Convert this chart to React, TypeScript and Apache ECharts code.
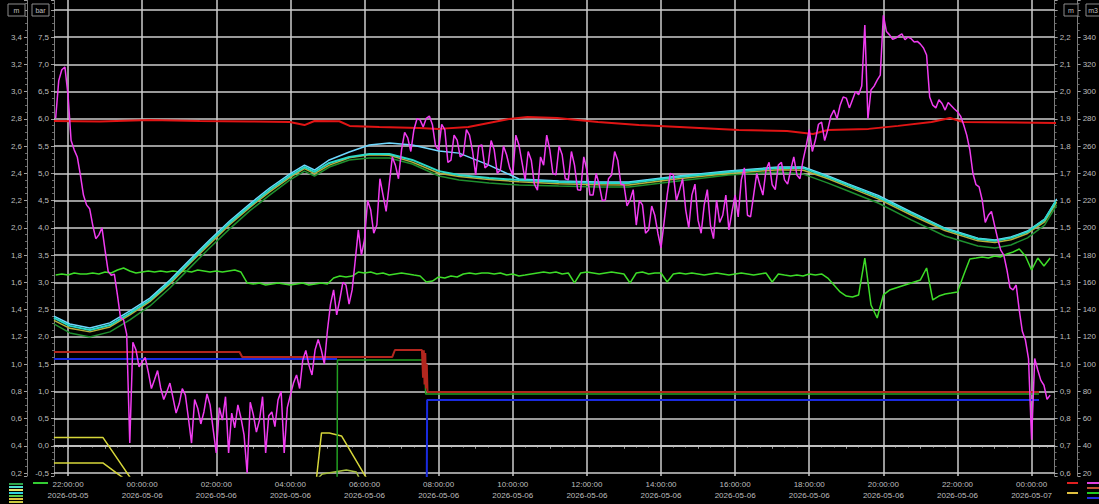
import React, { useEffect, useRef } from "react";
import * as echarts from "echarts";

// ---- time frame (hours relative to 2026-05-05 22:00) ----
const BASE = new Date(2026, 4, 5, 22, 0, 0).getTime();
const HOUR = 3600000;
const X_START_H = -0.378;
const X_END_H = 26.622;
const SAMPLE_START_H = -1 / 3; // 21:40
const PRESSURE_STEP_H = 1 / 12; // 5-minute samples
const LEVEL_STEP_H = 1 / 6; // 10-minute samples

// ---- grid ticks ----
const gridHours = [0, 2, 4, 6, 8, 10, 12, 14, 16, 18, 20, 22, 24, 26];
const gridMeters = [0.2, 0.4, 0.6, 0.8, 1.0, 1.2, 1.4, 1.6, 1.8, 2.0, 2.2, 2.4, 2.6, 2.8, 3.0, 3.2, 3.4, 3.6];

// ---- magenta pressure (bar), 5-minute samples ----
const pressureBar = [
  6.01, 6.7, 6.9, 6.95, 6.44, 5.6, 5.43, 5.3, 4.97, 4.6,
  4.42, 4.35, 4.05, 3.8, 3.87, 4.0, 3.59, 3.2, 3.13, 3.15,
  2.77, 2.35, 2.31, 2.05, 0.05, 1.9, 1.76, 1.45, 1.54, 1.62,
  1.35, 1.05, 1.21, 1.38, 1.06, 0.85, 0.99, 1.15, 0.88, 0.6,
  0.77, 1.05, 0.93, 0.5, 0.05, 0.85, 0.69, 0.4, 0.62, 0.95,
  0.75, 0.3, -0.13, 0.7, 0.47, 0.9, -0.13, 0.6, 0.33, 0.75,
  0.51, 0.2, -0.5, 0.8, 0.57, 0.25, 0.47, 0.9, -0.13, 0.55,
  0.62, 0.35, 0.84, 1.0, -0.13, 0.7, 0.93, 1.15, 1.3, 1.05,
  1.57, 1.75, 1.48, 1.3, 1.76, 1.95, 1.76, 1.5, 2.12, 2.6,
  2.86, 2.4, 2.68, 3.0, 2.95, 2.6, 2.86, 3.4, 3.96, 3.5,
  3.78, 4.5, 4.33, 3.9, 4.05, 4.9, 4.6, 4.3, 4.79, 5.3,
  5.15, 4.9, 5.43, 5.75, 5.65, 5.4, 5.8, 6.0, 5.98, 5.85,
  6.01, 6.05, 5.89, 5.5, 5.43, 5.9, 5.8, 5.2, 5.24, 5.7,
  5.61, 5.3, 5.34, 5.8, 5.7, 5.4, 4.97, 5.5, 5.52, 5.1,
  5.15, 5.6, 5.43, 5.0, 5.06, 5.5, 5.34, 5.1, 4.97, 5.7,
  5.52, 5.2, 4.88, 5.4, 5.24, 4.8, 4.69, 5.3, 5.15, 5.7,
  5.43, 5.0, 4.97, 5.5, 5.34, 4.9, 4.88, 5.4, 5.15, 4.7,
  4.69, 5.3, 5.06, 4.6, 4.6, 5.0, 4.79, 4.5, 4.51, 4.9,
  4.97, 5.4, 5.24, 4.8, 4.79, 4.4, 4.51, 4.7, 4.05, 4.5,
  4.42, 3.9, 3.96, 4.4, 4.23, 3.9, 3.63, 4.1, 4.6, 5.0,
  4.97, 4.5, 4.69, 4.9, 4.33, 4.0, 4.6, 4.8, 4.14, 3.9,
  4.42, 4.7, 4.05, 3.8, 4.51, 4.1, 4.23, 4.6, 3.96, 4.3,
  4.6, 4.2, 4.88, 5.1, 4.23, 4.2, 4.6, 5.0, 4.79, 4.6,
  5.06, 5.2, 4.79, 4.7, 5.15, 5.2, 4.88, 4.8, 5.06, 5.3,
  4.97, 4.9, 5.24, 5.5, 5.8, 5.4, 5.61, 5.9, 5.94, 5.6,
  5.8, 6.05, 6.16, 6.0, 6.25, 6.4, 6.38, 6.2, 6.35, 6.5,
  6.44, 6.6, 7.72, 6.0, 6.53, 6.6, 6.71, 6.8, 7.9, 7.6,
  7.54, 7.46, 7.48, 7.52, 7.56, 7.45, 7.5, 7.47, 7.41, 7.42,
  7.37, 7.3, 7.17, 6.4, 6.25, 6.2, 6.35, 6.28, 6.16, 6.3,
  6.24, 6.18, 6.13, 6.05, 5.89, 5.7, 5.43, 5.0, 4.79, 4.75,
  4.51, 4.1, 4.23, 4.3, 4.05, 3.8, 3.59, 3.5, 3.23, 2.9,
  2.86, 2.95, 2.49, 2.1, 1.94, 1.6, 0.11, 1.6, 1.39, 1.2,
  1.11, 0.85, 0.93,
];

// ---- bright green level (m, left), 10-minute samples ----
const flowLevel = [
  1.653, 1.661, 1.653, 1.668, 1.661, 1.661, 1.668, 1.661, 1.675, 1.668,
  1.69, 1.705, 1.683, 1.668, 1.675, 1.683, 1.675, 1.683, 1.675, 1.683,
  1.675, 1.683, 1.675, 1.69, 1.683, 1.675, 1.683, 1.675, 1.683, 1.69,
  1.675, 1.595, 1.587, 1.595, 1.58, 1.587, 1.595, 1.587, 1.58, 1.587,
  1.595, 1.58, 1.587, 1.595, 1.587, 1.631, 1.646, 1.639, 1.646, 1.675,
  1.668, 1.675, 1.661, 1.668, 1.653, 1.661, 1.668, 1.661, 1.653, 1.646,
  1.602, 1.609, 1.639, 1.631, 1.646, 1.639, 1.661, 1.668, 1.661, 1.668,
  1.668, 1.661, 1.668, 1.653, 1.661, 1.646, 1.653, 1.661, 1.668, 1.675,
  1.668, 1.675, 1.661, 1.668, 1.595, 1.668, 1.675, 1.668, 1.661, 1.668,
  1.675, 1.668, 1.661, 1.595, 1.668, 1.675, 1.661, 1.668, 1.668, 1.602,
  1.661, 1.668, 1.661, 1.668, 1.661, 1.653, 1.661, 1.668, 1.661, 1.653,
  1.661, 1.668, 1.661, 1.653, 1.661, 1.668, 1.602, 1.661, 1.653, 1.646,
  1.653, 1.646, 1.661, 1.653, 1.661, 1.631, 1.58, 1.529, 1.499, 1.492,
  1.507, 1.778, 1.433, 1.338, 1.507, 1.543, 1.558, 1.573, 1.587, 1.602,
  1.617, 1.705, 1.47, 1.499, 1.514, 1.521, 1.529, 1.653, 1.771, 1.778,
  1.786, 1.778, 1.793, 1.786, 1.808, 1.822, 1.844, 1.793, 1.69, 1.778,
  1.72, 1.778,
];

// ---- smooth level curves (m, right) ----
const curveHours = [
  -0.38, 0.05, 0.59, 1.13, 1.67, 2.21, 2.75, 3.28, 3.82, 4.36, 4.9, 5.44, 5.98, 6.38,
  6.65, 7.05, 7.59, 8.13, 8.67, 9.29, 10.01, 10.55, 11.36, 12.17, 13.24, 14.32, 15.13,
  16.47, 17.82, 19.17, 19.84, 20.51, 21.05, 21.86, 22.75, 23.66, 24.55, 25.01, 25.44,
  25.89, 26.35, 26.68,
];
const levelTeal = [
  1.169, 1.14, 1.125, 1.143, 1.187, 1.235, 1.301, 1.374, 1.448, 1.518, 1.58, 1.639, 1.69,
  1.723, 1.705, 1.738, 1.76, 1.771, 1.771, 1.749, 1.708, 1.694, 1.683, 1.675, 1.668, 1.664,
  1.664, 1.686, 1.705, 1.719, 1.719, 1.686, 1.657, 1.613, 1.554, 1.496, 1.459, 1.452, 1.463,
  1.485, 1.529, 1.602,
];
const levelCyan = [
  1.176, 1.147, 1.132, 1.151, 1.195, 1.242, 1.308, 1.382, 1.455, 1.525, 1.587, 1.646, 1.697,
  1.73, 1.712, 1.749, 1.778, 1.804, 1.811, 1.804, 1.782, 1.774, 1.73, 1.679, 1.672, 1.668,
  1.668, 1.69, 1.708, 1.723, 1.723, 1.69, 1.661, 1.619, 1.558, 1.499, 1.462, 1.455, 1.466,
  1.488, 1.532, 1.606,
];
const levelGreen = [
  1.147, 1.114, 1.099, 1.118, 1.162, 1.213, 1.279, 1.352, 1.426, 1.496, 1.562, 1.62, 1.675,
  1.708, 1.69, 1.723, 1.749, 1.756, 1.756, 1.734, 1.69, 1.675, 1.664, 1.657, 1.653, 1.65,
  1.65, 1.672, 1.694, 1.705, 1.697, 1.664, 1.635, 1.591, 1.529, 1.47, 1.433, 1.426, 1.437,
  1.463, 1.51, 1.584,
];
const levelOlive = [
  1.16, 1.131, 1.118, 1.136, 1.18, 1.229, 1.294, 1.368, 1.44, 1.511, 1.574, 1.632, 1.684,
  1.717, 1.699, 1.73, 1.757, 1.768, 1.766, 1.741, 1.7, 1.688, 1.677, 1.669, 1.662, 1.658,
  1.657, 1.68, 1.699, 1.713, 1.711, 1.68, 1.65, 1.606, 1.547, 1.49, 1.452, 1.446, 1.456,
  1.479, 1.522, 1.595,
];

// ---- red upper level (m, right) ----
const redHours = [
  -0.38, 0.86, 2.2, 3.55, 4.9, 5.98, 6.38, 6.65, 7.32, 7.6, 8.4, 9.48, 10.0, 10.8, 11.9,
  12.4, 13.2, 14.3, 15.4, 16.5, 18.1, 19.4, 20.1, 20.5, 21.6, 22.4, 23.3, 23.8, 24.15, 26.68,
];
const redLevel = [
  1.892, 1.89, 1.896, 1.892, 1.89, 1.888, 1.877, 1.892, 1.891, 1.874, 1.87, 1.866, 1.863,
  1.87, 1.899, 1.907, 1.903, 1.888, 1.877, 1.87, 1.859, 1.855, 1.844, 1.859, 1.863, 1.874,
  1.888, 1.903, 1.888, 1.885,
];

// ---- lower signals (m, left) ----
const darkRedHours = [-0.38, 4.63, 4.7, 8.75, 8.82, 9.55, 9.58, 9.6, 9.62, 9.64, 9.66, 9.68, 9.7, 26.2];
const darkRedValues = [1.088, 1.088, 1.052, 1.052, 1.103, 1.103, 0.9, 1.1, 0.85, 1.08, 0.82, 1.0, 0.795, 0.795];
const blueHours = [-0.38, 7.26, 7.27, 9.68, 9.69, 26.2];
const blueValues = [1.037, 1.037, null, 0.1, 0.736, 0.736];
const greenLowHours = [7.26, 7.27, 9.62, 9.65, 26.2];
const greenLowValues = [0.1, 1.03, 1.03, 0.78, 0.78];
const yellowAHours = [-0.38, 0.94, 1.72];
const yellowAValues = [0.461, 0.461, 0.15];
const yellowBHours = [-0.38, 0.94, 1.56];
const yellowBValues = [0.274, 0.274, 0.15];
const yellowCHours = [6.7, 6.84, 7.05, 7.38, 8.08];
const yellowCValues = [0.15, 0.494, 0.494, 0.472, 0.15];
const yellowDHours = [6.7, 6.86, 7.51, 7.78, 7.88];
const yellowDValues = [0.15, 0.193, 0.222, 0.207, 0.15];

// ---- axis units ----
const unitBoxes = [
  { label: "m", x: 8, w: 17 },
  { label: "bar", x: 32, w: 17 },
  { label: "m", x: 1064, w: 14 },
  { label: "m3", x: 1086, w: 14 },
];

const FONT = "Liberation Sans, Arial, sans-serif";
const GRID_COLOR = "#cdcdcd";
const at = (h: number) => BASE + h * HOUR;
const zip = (hours: number[], vals: (number | null)[]) => hours.map((h, i) => [at(h), vals[i]]);
const sampled = (vals: number[], step: number) => vals.map((v, i) => [at(SAMPLE_START_H + i * step), v]);
const pad = (n: number) => String(n).padStart(2, "0");
const fmtTime = (v: number) => {
  const d = new Date(v);
  if (d.getMinutes() !== 0 || d.getSeconds() !== 0 || d.getHours() % 2 !== 0) return "";
  return `${pad(d.getHours())}:${pad(d.getMinutes())}:${pad(d.getSeconds())}\n${d.getFullYear()}-${pad(
    d.getMonth() + 1
  )}-${pad(d.getDate())}`;
};
const decimalLabel = (step: number, top: number, digits: number) => (v: number) => {
  const k = v / step;
  if (Math.abs(k - Math.round(k)) > 1e-6 || v > top) return "";
  return v.toFixed(digits).replace(".", ",");
};

const yAxis = (
  position: string,
  offset: number,
  min: number,
  max: number,
  step: number,
  top: number,
  digits: number
) => ({
  type: "value",
  position,
  offset,
  min,
  max,
  minInterval: step,
  maxInterval: step,
  axisLine: { show: true, lineStyle: { color: "#7d7d7d", width: 1 } },
  axisTick: { show: true, length: 3, lineStyle: { color: "#a0a0a0" } },
  minorTick: { show: true, splitNumber: 4, length: 2, lineStyle: { color: "#6a6a6a" } },
  splitLine: { show: false },
  axisLabel: {
    color: "#bdbdbd",
    fontSize: 8,
    fontFamily: FONT,
    margin: 5,
    formatter: decimalLabel(step, top, digits),
  },
});

const line = (name: string, data: any[], color: string, width: number, yAxisIndex: number) => ({
  type: "line",
  name,
  data,
  yAxisIndex,
  showSymbol: false,
  symbol: "none",
  silent: true,
  clip: true,
  connectNulls: false,
  z: 3,
  lineStyle: { color, width },
  itemStyle: { color },
});

const legendBars = [
  { x: 9, y: 483, w: 14, c: "#2fa64a" },
  { x: 9, y: 486, w: 14, c: "#4fe0d0" },
  { x: 9, y: 489, w: 14, c: "#e6e66a" },
  { x: 9, y: 492, w: 14, c: "#30d0e0" },
  { x: 9, y: 495, w: 14, c: "#5cc84a" },
  { x: 9, y: 498, w: 14, c: "#e0c040" },
  { x: 9, y: 501, w: 14, c: "#c8c840" },
  { x: 33, y: 482, w: 15, c: "#33cc33" },
  { x: 1067, y: 482, w: 11, c: "#e02020" },
  { x: 1067, y: 492, w: 11, c: "#e0c040" },
  { x: 1087, y: 482, w: 12, c: "#e040e0" },
  { x: 1087, y: 487, w: 12, c: "#c05030" },
  { x: 1087, y: 492, w: 12, c: "#22cc22" },
  { x: 1087, y: 497, w: 12, c: "#2030e0" },
];

export default function App() {
  const ref = useRef<HTMLDivElement>(null);
  useEffect(() => {
    if (!ref.current) return;
    const chart = echarts.init(ref.current, null, { renderer: "svg" });
    const graphic: any[] = [];
    unitBoxes.forEach((b) => {
      graphic.push({
        type: "rect",
        z: 100,
        shape: { x: b.x, y: 4, width: b.w, height: 12 },
        style: { fill: "#000", stroke: "#8c8c8c", lineWidth: 1 },
      });
      graphic.push({
        type: "text",
        z: 101,
        style: {
          text: b.label,
          x: b.x + b.w / 2,
          y: 10,
          align: "center",
          verticalAlign: "middle",
          fill: "#c0c0c0",
          fontSize: 7,
          fontFamily: FONT,
        },
      });
    });
    legendBars.forEach((l) => {
      graphic.push({
        type: "rect",
        z: 100,
        shape: { x: l.x, y: l.y, width: l.w, height: 2 },
        style: { fill: l.c },
      });
    });

    const gridLineStyle = { color: GRID_COLOR, width: 1.5, type: "solid" };
    const gridSeries = {
      type: "line",
      name: "grid",
      data: [],
      yAxisIndex: 0,
      silent: true,
      z: 1,
      markLine: {
        silent: true,
        z: 1,
        symbol: ["none", "none"],
        label: { show: false },
        emphasis: { disabled: true },
        lineStyle: gridLineStyle,
        data: [
          ...gridHours.map((h) => ({ xAxis: at(h), lineStyle: gridLineStyle })),
          ...gridMeters.map((v) => ({ yAxis: v, lineStyle: gridLineStyle })),
        ],
      },
    };

    chart.setOption({
      animation: false,
      backgroundColor: "#000000",
      grid: { left: 54, right: 40, top: 0, bottom: 28, containLabel: false },
      xAxis: {
        type: "time",
        min: at(X_START_H),
        max: at(X_END_H),
        minInterval: 2 * HOUR,
        maxInterval: 2 * HOUR,
        splitNumber: 14,
        axisLine: { show: true, lineStyle: { color: "#c8c8c8", width: 1.5 } },
        axisTick: { show: true, length: 3, lineStyle: { color: "#9a9a9a" } },
        minorTick: { show: true, splitNumber: 3, length: 2, lineStyle: { color: "#777" } },
        splitLine: { show: false },
        axisLabel: {
          color: "#bdbdbd",
          fontSize: 8,
          fontFamily: FONT,
          lineHeight: 11,
          margin: 3,
          hideOverlap: false,
          formatter: fmtTime,
        },
      },
      yAxis: [
        yAxis("left", 27, 0.178, 3.672, 0.2, 3.41, 1),
        yAxis("left", 0, -0.555, 8.18, 0.5, 7.51, 1),
        yAxis("right", 0, 0.589, 2.336, 0.1, 2.21, 1),
        yAxis("right", 23, 17.8, 367.2, 20, 341, 0),
      ],
      graphic,
      series: [
        gridSeries,
        line("yellowA", zip(yellowAHours, yellowAValues), "#d6d63a", 1.5, 0),
        line("yellowB", zip(yellowBHours, yellowBValues), "#d6d63a", 1.5, 0),
        line("yellowC", zip(yellowCHours, yellowCValues), "#d6d63a", 1.5, 0),
        line("yellowD", zip(yellowDHours, yellowDValues), "#a8c040", 1.5, 0),
        line("blue", zip(blueHours, blueValues), "#1a2be0", 2, 0),
        line("greenLow", zip(greenLowHours, greenLowValues), "#22a022", 1.5, 0),
        line("darkRed", zip(darkRedHours, darkRedValues), "#b3261e", 2, 0),
        line("redTop", zip(redHours, redLevel), "#e01414", 2, 2),
        line("flowLevel", sampled(flowLevel, LEVEL_STEP_H), "#3ddc28", 1.5, 0),
        line("levelGreen", zip(curveHours, levelGreen), "#1e8f2e", 1.5, 2),
        line("levelOlive", zip(curveHours, levelOlive), "#b5b23a", 1.5, 2),
        line("levelCyan", zip(curveHours, levelCyan), "#6fd8ff", 1.5, 2),
        line("levelTeal", zip(curveHours, levelTeal), "#2ad8c6", 2, 2),
        line("pressure", sampled(pressureBar, PRESSURE_STEP_H), "#f03cf0", 1.5, 1),
      ],
    });
    return () => chart.dispose();
  }, []);
  return (
    <div
      ref={ref}
      style={{ position: "fixed", left: 0, top: 0, width: 1099, height: 504, background: "#000" }}
    />
  );
}
